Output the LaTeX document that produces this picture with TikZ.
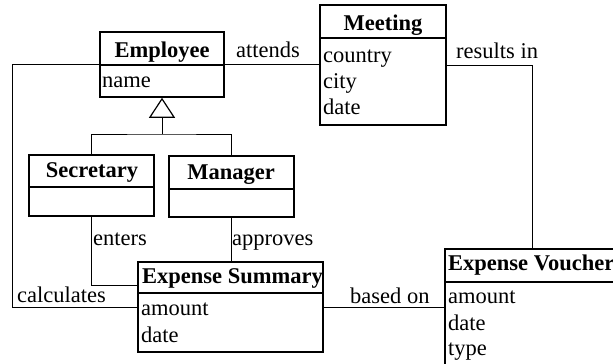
\documentclass[tikz,border=0pt]{standalone}
\usepackage{fontspec}
\setmainfont{Liberation Serif}
\usetikzlibrary{arrows.meta}
\begin{document}
\begin{tikzpicture}[x=1pt,y=-1pt,
  every node/.style={font=\fontsize{22.5}{26}\selectfont, inner sep=0pt},
  classbox/.style={draw, rectangle, line width=1.5pt, fill=white, inner sep=0pt},
  divider/.style={line width=1.5pt},
  assoc/.style={line width=1pt},
  title/.style={font=\fontsize{22.5}{26}\selectfont\bfseries, anchor=base},
  titleleft/.style={title, anchor=base west},
  attr/.style={anchor=base west},
  rolelabel/.style={anchor=base west},
  inherit/.style={line width=1pt, -{Triangle[open, length=20pt, width=26pt, line width=1.2pt]}}
]
\useasboundingbox (0,0) rectangle (613,364);
\clip (0,0) rectangle (613,364);

% class boxes
\node[classbox, minimum width=124pt, minimum height=65pt] (emp) at (162,64.5) {};
\node[classbox, minimum width=126pt, minimum height=120pt] (meet) at (383,65) {};
\node[classbox, minimum width=125pt, minimum height=61pt] (sec) at (91.5,185.5) {};
\node[classbox, minimum width=125pt, minimum height=61pt] (man) at (231.5,186.5) {};
\node[classbox, minimum width=185pt, minimum height=90pt] (es) at (230.5,307) {};
\node[classbox, minimum width=174pt, minimum height=121pt] (ev) at (532,309.5) {};

% compartment dividers
\draw[divider] (emp.west |- 0,65) -- (emp.east |- 0,65);
\draw[divider] (meet.west |- 0,38) -- (meet.east |- 0,38);
\draw[divider] (sec.west |- 0,187) -- (sec.east |- 0,187);
\draw[divider] (man.west |- 0,189) -- (man.east |- 0,189);
\draw[divider] (es.west |- 0,293) -- (es.east |- 0,293);
\draw[divider] (ev.west |- 0,282) -- (ev.east |- 0,282);

% class names
\node[title] (empname) at (162,57) {Employee};
\node[title] (meetname) at (383,30) {Meeting};
\node[title] (secname) at (92,177) {Secretary};
\node[title] (manname) at (231,179) {Manager};
\node[titleleft] (esname) at (142,283) {Expense Summary};
\node[titleleft] (evname) at (448,270) {Expense Voucher};

% attributes
\node[attr] (empa1) at (102,87) {name};
\node[attr] (meeta1) at (323,62) {country};
\node[attr] (meeta2) at (323,88) {city};
\node[attr] (meeta3) at (323,114) {date};
\node[attr] (esa1) at (141,315) {amount};
\node[attr] (esa2) at (141,342) {date};
\node[attr] (eva1) at (448,303) {amount};
\node[attr] (eva2) at (448,330) {date};
\node[attr] (eva3) at (448,355) {type};

% associations
\draw[assoc] (emp.east) -- (emp.east -| meet.west);
\draw[assoc] (emp.west) -- ++(-87,0) |- (es.west);
\draw[assoc] (sec.south) |- ([yshift=22pt]es.west);
\draw[assoc] (man.south) -- (man.south |- es.north);
\draw[assoc] (meet.east) -| (ev.north);
\draw[assoc] (es.east) -- (es.east -| ev.west);

% generalization
\coordinate (gen) at (162,134);
\draw[assoc] (sec.north) |- (gen) -| (man.north);
\draw[inherit] (gen) -- (emp.south);

% association labels
\node[rolelabel] (lattends) at (236,57) {attends};
\node[rolelabel] (lresults) at (456,58) {results in};
\node[rolelabel] (lenters) at (93,245) {enters};
\node[rolelabel] (lapproves) at (232,245) {approves};
\node[rolelabel] (lcalc) at (17,302) {calculates};
\node[rolelabel] (lbased) at (350,303) {based on};
\end{tikzpicture}
\end{document}
